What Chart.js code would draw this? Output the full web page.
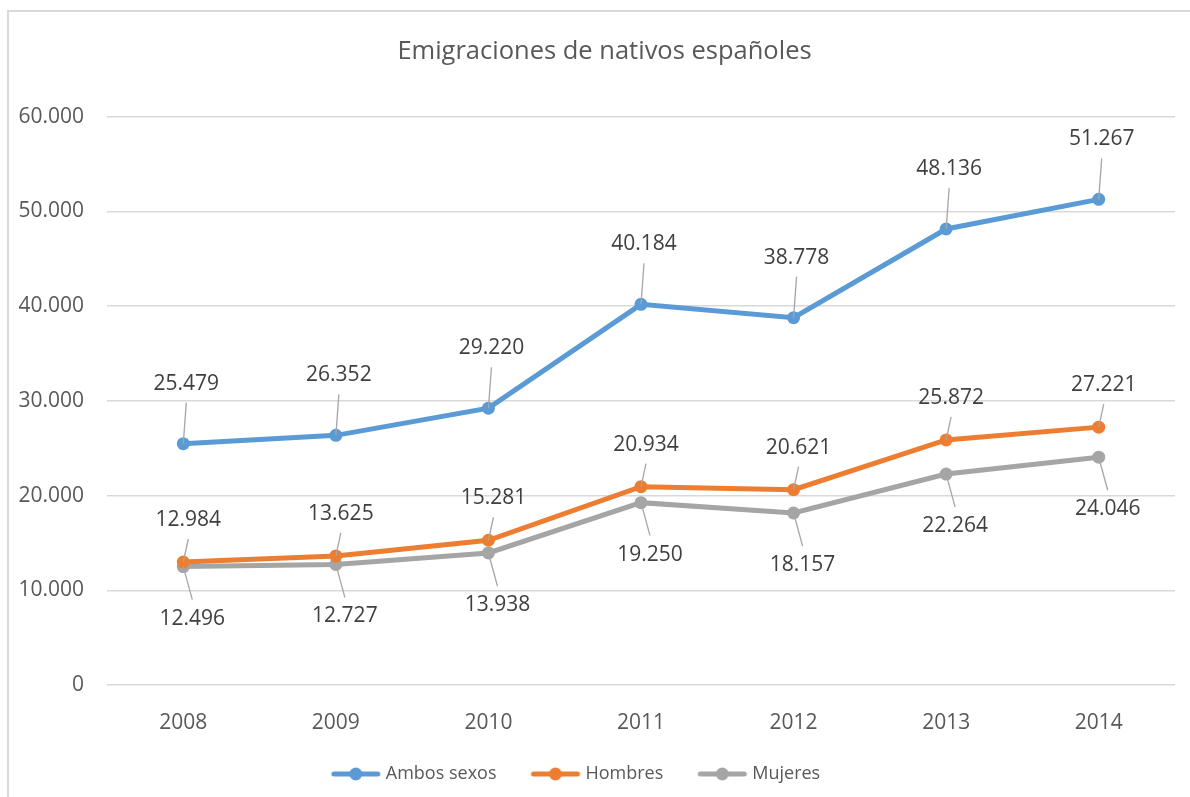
<!DOCTYPE html>
<html>
<head>
<meta charset="utf-8">
<title>Emigraciones de nativos españoles</title>
<script src="https://cdn.jsdelivr.net/npm/chart.js@4.4.1/dist/chart.umd.min.js"></script>
<style>
    html, body { margin: 0; padding: 0; background: #ffffff; overflow: hidden; }
    #frame {
        position: absolute; left: 7px; top: 10px;
        width: 1250px; height: 850px;
        border: 2px solid #d9d9d9; box-sizing: border-box;
    }
    #wrap { position: absolute; left: 0; top: 0; width: 1190px; height: 797px; }
</style>
</head>
<body>
<div id="frame"></div>
<div id="wrap"><canvas id="chart"></canvas></div>
<script>
// Data
const years = ['2008', '2009', '2010', '2011', '2012', '2013', '2014'];
const ambosSexos = [25479, 26352, 29220, 40184, 38778, 48136, 51267];
const hombres = [12984, 13625, 15281, 20934, 20621, 25872, 27221];
const mujeres = [12496, 12727, 13938, 19250, 18157, 22264, 24046];
const yTicks = [0, 10000, 20000, 30000, 40000, 50000, 60000];

const FONT = '"Open Sans", "Liberation Sans", sans-serif';
const BLUE = '#5b9bd5';
const ORANGE = '#ed7d31';
const GREY = '#a5a5a5';

// Spanish thousands separator: 25479 -> "25.479"
function fmt(v) {
    return String(v).replace(/\B(?=(\d{3})+(?!\d))/g, '.');
}

// Legend marker: short thick line with a dot in the middle
function legendMark(color) {
    const c = document.createElement('canvas');
    c.width = 52;
    c.height = 14;
    const g = c.getContext('2d');
    g.strokeStyle = color;
    g.lineWidth = 5;
    g.lineCap = 'round';
    g.beginPath();
    g.moveTo(4, 7);
    g.lineTo(48, 7);
    g.stroke();
    g.fillStyle = color;
    g.beginPath();
    g.arc(26, 7, 6.5, 0, Math.PI * 2);
    g.fill();
    return c;
}

// Value labels with a thin leader line back to the point
const leaderLabels = {
    id: 'leaderLabels',
    afterDatasetsDraw(chart) {
        const ctx = chart.ctx;
        chart.data.datasets.forEach((ds, i) => {
            const meta = chart.getDatasetMeta(i);
            const off = ds.labelOffset;
            const dir = Math.sign(off.dy);
            meta.data.forEach((pt, j) => {
                const lx = pt.x + off.dx;
                const ly = pt.y + off.dy;
                ctx.save();
                ctx.strokeStyle = '#a6a6a6';
                ctx.lineWidth = 1.3;
                ctx.beginPath();
                ctx.moveTo(lx, ly - dir * 19);
                ctx.lineTo(pt.x, pt.y);
                ctx.stroke();
                ctx.fillStyle = '#404040';
                ctx.font = '21px ' + FONT;
                ctx.textAlign = 'center';
                ctx.textBaseline = 'middle';
                ctx.fillText(fmt(ds.data[j]), lx, ly);
                ctx.restore();
            });
        });
    }
};

// Excel centres the title and legend a little differently; nudge both boxes
const boxNudge = {
    id: 'boxNudge',
    afterLayout(chart) {
        chart.titleBlock.left += 34;
        chart.legend.right -= 20;
        chart.legend.top -= 4;
    }
};

function series(label, values, color, labelOffset) {
    return {
        label: label,
        data: values,
        borderColor: color,
        backgroundColor: color,
        borderWidth: 5,
        pointRadius: 6.5,
        pointHoverRadius: 6.5,
        pointBorderWidth: 0,
        tension: 0,
        labelOffset: labelOffset
    };
}

const legendMarks = [legendMark(BLUE), legendMark(ORANGE), legendMark(GREY)];

const chart = new Chart(document.getElementById('chart'), {
    type: 'line',
    data: {
        labels: years,
        datasets: [
            series('Ambos sexos', ambosSexos, BLUE, { dx: 3, dy: -60 }),
            series('Hombres', hombres, ORANGE, { dx: 5, dy: -42 }),
            series('Mujeres', mujeres, GREY, { dx: 9, dy: 52 })
        ]
    },
    options: {
        responsive: true,
        maintainAspectRatio: false,
        animation: false,
        layout: { padding: { left: 0, right: 15, top: 0, bottom: 0 } },
        scales: {
            x: {
                offset: true,
                grid: { display: false },
                border: { display: false },
                ticks: { color: '#595959', padding: 17, font: { family: FONT, size: 21 } },
                afterFit(scale) { scale.height = 46; }
            },
            y: {
                min: 0,
                max: 60000,
                afterBuildTicks(scale) { scale.ticks = yTicks.map(v => ({ value: v })); },
                ticks: {
                    color: '#595959',
                    padding: 23,
                    font: { family: FONT, size: 21 },
                    callback: v => fmt(v)
                },
                grid: { color: '#d9d9d9', lineWidth: 1.5, drawTicks: false },
                border: { display: false },
                afterFit(scale) { scale.width = 107; }
            }
        },
        plugins: {
            title: {
                display: true,
                text: 'Emigraciones de nativos españoles',
                color: '#595959',
                font: { family: FONT, size: 25.5, weight: 'normal' },
                padding: { top: 36, bottom: 50 }
            },
            legend: {
                position: 'bottom',
                labels: {
                    color: '#595959',
                    font: { family: FONT, size: 18 },
                    usePointStyle: true,
                    pointStyleWidth: 42,
                    padding: 38,
                    generateLabels(c) {
                        const items = Chart.defaults.plugins.legend.labels.generateLabels(c);
                        items.forEach((it, k) => { it.pointStyle = legendMarks[k]; });
                        return items;
                    }
                }
            },
            tooltip: { enabled: false }
        }
    },
    plugins: [leaderLabels, boxNudge]
});
</script>
</body>
</html>
